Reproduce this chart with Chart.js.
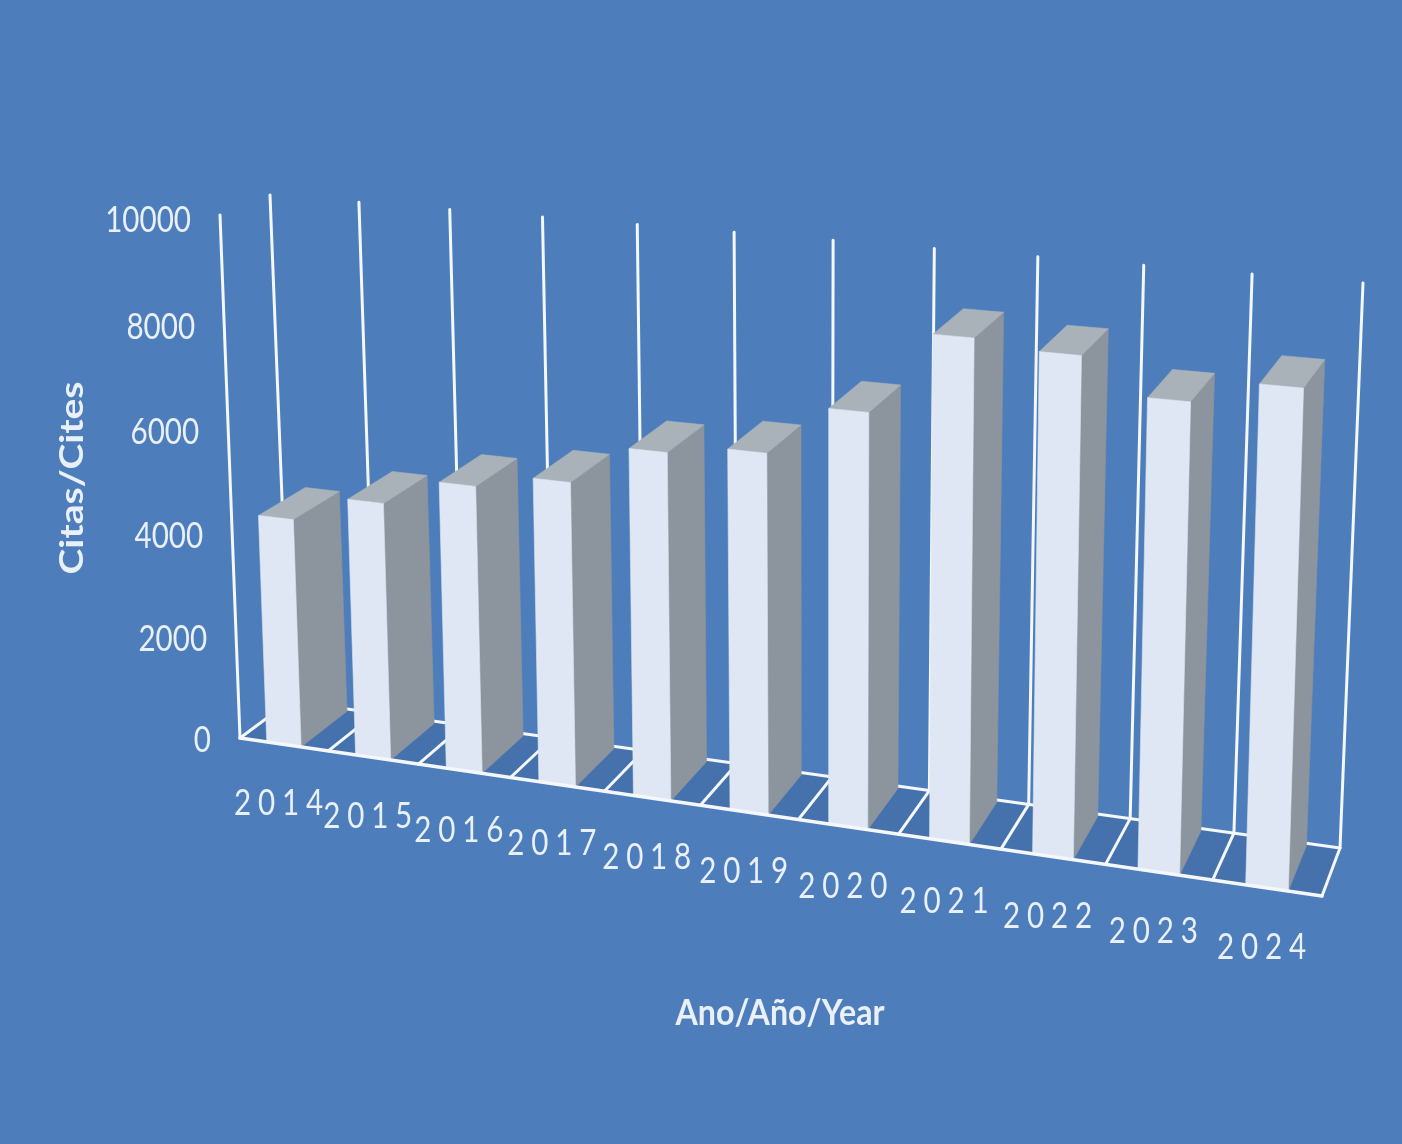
<!DOCTYPE html>
<html>
<head>
<meta charset="utf-8">
<title>Citas/Cites</title>
<script src="https://cdn.jsdelivr.net/npm/chart.js@4"></script>
<style>
  html, body { margin: 0; padding: 0; background: #4d7ebb; }
  canvas { display: block; }
</style>
</head>
<body>
<canvas id="chart" width="1402" height="1144"></canvas>
<script>
// values
const years = ['2014','2015','2016','2017','2018','2019','2020','2021','2022','2023','2024'];
const cites = [4400,4910,5430,5700,6440,6620,7530,9000,8870,8260,8670];
const yMax = 10000;
const yStep = 2000;
const yTitle = 'Citas/Cites';
const xTitle = 'Ano/Año/Year';

const bgColor = '#4d7ebb';
const floorColor = '#4571ac';
const lineColor = '#f4f7fb';
const textColor = '#e9f0f8';
const frontColor = '#dee7f3';
const sideColor = '#8c949d';
const topColor = '#a9b1b9';

// corners of the front and back planes of the 3D box: BL, BR, TR, TL
const frontQuad = [[240,738],[1322,896],[1341,311],[220,215]];
const backQuad = [[290,701],[1340,848],[1363,283],[270,195]];
const barDepth = 0.95;

// maps the unit square to a quad (perspective)
function makeHomography(q) {
  const [x0,y0] = q[0], [x1,y1] = q[1], [x2,y2] = q[2], [x3,y3] = q[3];
  const dx1 = x1-x2, dx2 = x3-x2, sx = x0-x1+x2-x3;
  const dy1 = y1-y2, dy2 = y3-y2, sy = y0-y1+y2-y3;
  const den = dx1*dy2 - dx2*dy1;
  const g = (sx*dy2 - dx2*sy)/den;
  const h = (dx1*sy - sx*dy1)/den;
  const a = x1-x0+g*x1, b = x3-x0+h*x3, d = y1-y0+g*y1, e = y3-y0+h*y3;
  return (u,v) => {
    const w = g*u + h*v + 1;
    return [(a*u + b*v + x0)/w, (d*u + e*v + y0)/w];
  };
}
const frontH = makeHomography(frontQuad);
const backH = makeHomography(backQuad);

// u,v in 0..1 on the chart area, z 0 = front, 1 = back
function project(u, v, z) {
  const f = frontH(u,v), b = backH(u,v);
  return [f[0] + (b[0]-f[0])*z, f[1] + (b[1]-f[1])*z];
}

function poly(ctx, pts, fill) {
  ctx.beginPath();
  pts.forEach((p,i) => i ? ctx.lineTo(p[0],p[1]) : ctx.moveTo(p[0],p[1]));
  ctx.closePath();
  ctx.fillStyle = fill;
  ctx.fill();
  // hairline in the same colour closes the seams between faces
  ctx.strokeStyle = fill;
  ctx.lineWidth = 0.6;
  ctx.stroke();
}

function seg(ctx, a, b, width) {
  ctx.beginPath();
  ctx.moveTo(a[0],a[1]);
  ctx.lineTo(b[0],b[1]);
  ctx.lineWidth = width;
  ctx.strokeStyle = lineColor;
  ctx.lineCap = 'round';
  ctx.stroke();
}

// text squeezed horizontally, the source font is narrower than Lato
function label(ctx, text, x, y, font, squeeze, align, spacing) {
  ctx.save();
  ctx.translate(x,y);
  ctx.scale(squeeze,1);
  ctx.font = font;
  ctx.letterSpacing = (spacing || 0) + 'px';
  ctx.fillStyle = textColor;
  ctx.textAlign = align;
  ctx.textBaseline = 'middle';
  ctx.fillText(text,0,0);
  ctx.restore();
}

const box3d = {
  id: 'box3d',
  beforeDraw(chart) {
    const ctx = chart.ctx;
    ctx.save();
    ctx.fillStyle = bgColor;
    ctx.fillRect(0,0,chart.width,chart.height);
    const n = years.length;
    poly(ctx, [project(0,0,0),project(1,0,0),project(1,0,1),project(0,0,1)], floorColor);
    // walls and floor lines
    seg(ctx, project(0,0,0), project(0,1,0), 3);
    seg(ctx, project(0,0,1), project(1,0,1), 3);
    for (let i = 0; i <= n; i++) {
      const u = i/n;
      seg(ctx, project(u,0,1), project(u,1,1), 3);
      seg(ctx, project(u,0,0), project(u,0,1), 3);
    }
    ctx.restore();
  },
  // 3D boxes instead of the flat bars
  beforeDatasetsDraw(chart) {
    const ctx = chart.ctx, area = chart.chartArea;
    const meta = chart.getDatasetMeta(0);
    const toU = x => (x-area.left)/(area.right-area.left);
    const toV = y => (area.bottom-y)/(area.bottom-area.top);
    ctx.save();
    meta.data.forEach(bar => {
      const l = toU(bar.x-bar.width/2), r = toU(bar.x+bar.width/2);
      const t = toV(bar.y), b = toV(bar.base);
      poly(ctx, [project(r,b,0),project(r,b,barDepth),project(r,t,barDepth),project(r,t,0)], sideColor);
      poly(ctx, [project(l,t,0),project(r,t,0),project(r,t,barDepth),project(l,t,barDepth)], topColor);
      poly(ctx, [project(l,b,0),project(r,b,0),project(r,t,0),project(l,t,0)], frontColor);
    });
    ctx.restore();
    return false;
  },
  afterDraw(chart) {
    const ctx = chart.ctx, area = chart.chartArea;
    const xs = chart.scales.x, ys = chart.scales.y;
    const toU = x => (x-area.left)/(area.right-area.left);
    const toV = y => (area.bottom-y)/(area.bottom-area.top);
    ctx.save();
    seg(ctx, project(0,0,0), project(1,0,0), 3.6);
    ys.ticks.forEach(t => {
      const v = toV(ys.getPixelForValue(t.value));
      const p = project(0,v,0);
      label(ctx, t.label, p[0]-29, p[1]+2+3*v, '37px Lato', 0.8, 'right');
    });
    xs.ticks.forEach((t,i) => {
      const p = project(toU(xs.getPixelForTick(i)),0,0);
      label(ctx, t.label, p[0]-2, p[1]+59, '37px Lato', 0.8, 'center', 8.5);
    });
    label(ctx, xs.options.title.text, 780, 1013, 'bold 37px Lato', 0.87, 'center');
    ctx.translate(73,478);
    ctx.rotate(-Math.PI/2);
    label(ctx, ys.options.title.text, 0, 0, 'bold 32px Lato', 1.22, 'center');
    ctx.restore();
  }
};

new Chart(document.getElementById('chart').getContext('2d'), {
  type: 'bar',
  data: {
    labels: years,
    datasets: [{
      label: yTitle,
      data: cites,
      backgroundColor: frontColor,
      categoryPercentage: 1,
      barPercentage: 0.39
    }]
  },
  options: {
    responsive: false,
    animation: false,
    layout: { padding: 0 },
    plugins: { legend: { display: false }, tooltip: { enabled: false } },
    scales: {
      x: { display: false, title: { display: false, text: xTitle } },
      y: {
        display: false,
        min: 0,
        max: yMax,
        ticks: { stepSize: yStep, callback: v => String(v) },
        title: { display: false, text: yTitle }
      }
    }
  },
  plugins: [box3d]
});
</script>
</body>
</html>
